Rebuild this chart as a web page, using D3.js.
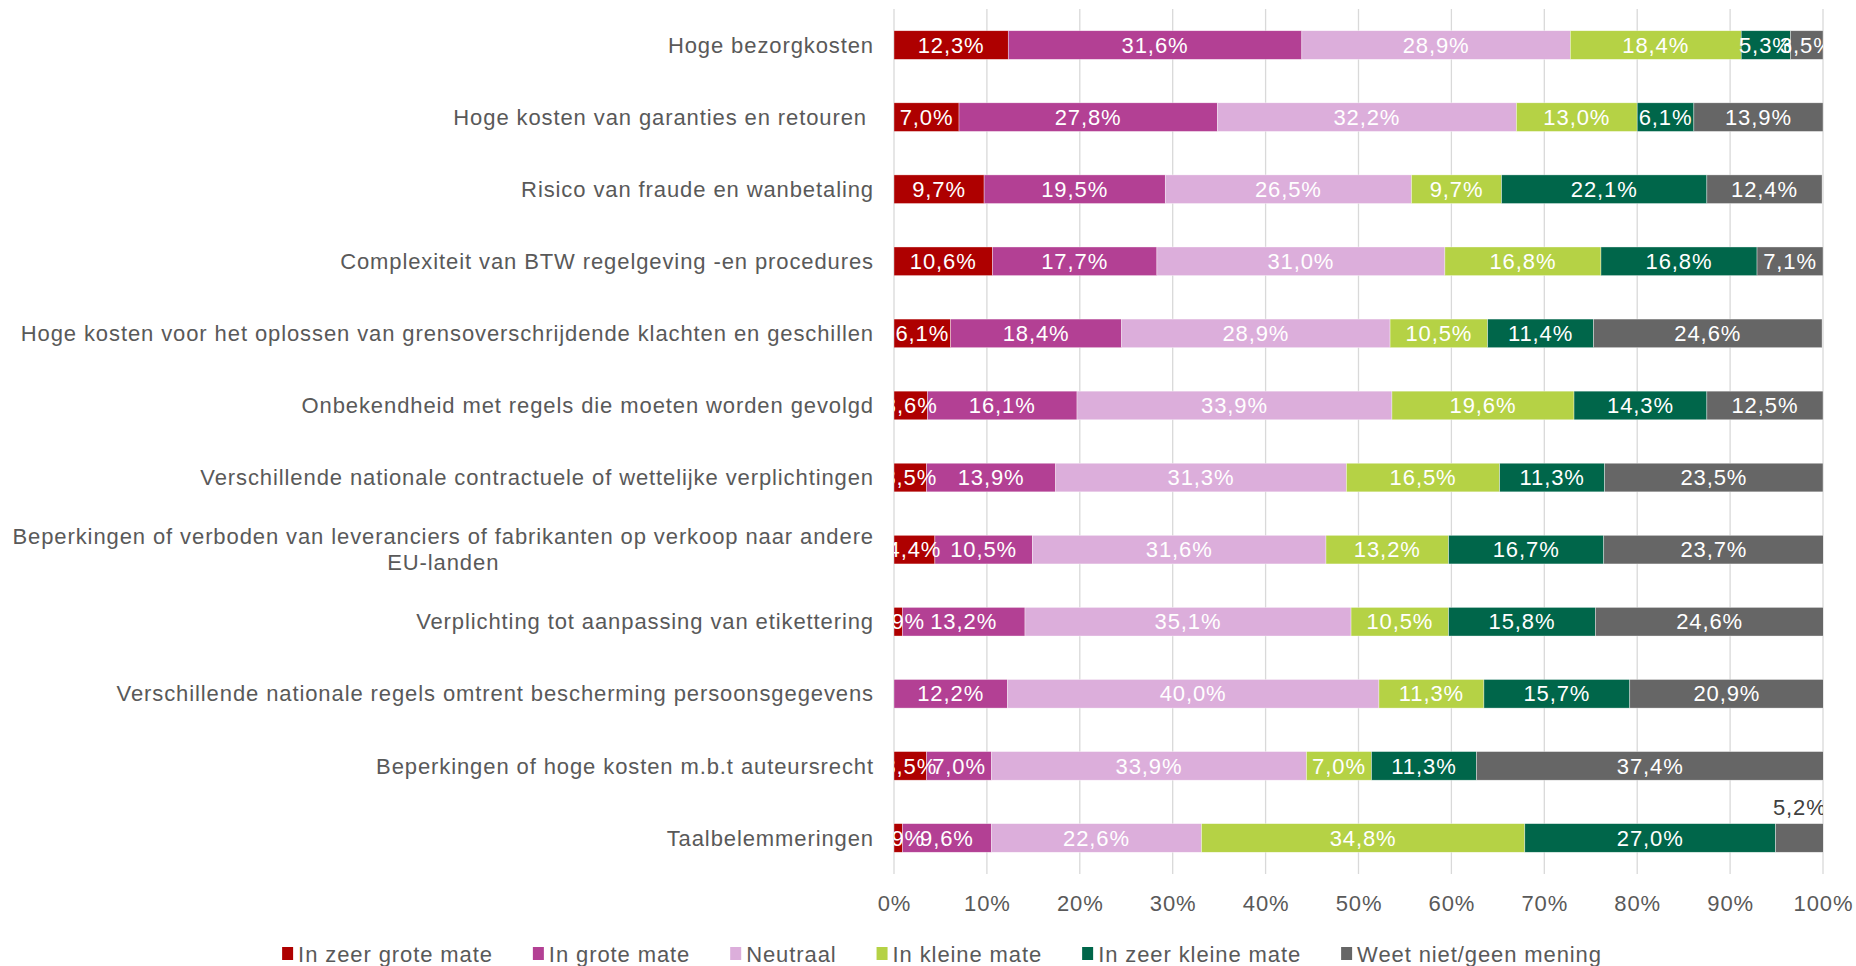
<!DOCTYPE html>
<html>
<head>
<meta charset="utf-8">
<script src="https://cdn.jsdelivr.net/npm/d3@7"></script>
<style>
  html, body { margin: 0; padding: 0; background: #fff; }
  svg { display: block; font-family: "Liberation Sans", Arial, sans-serif; }
  svg text { letter-spacing: 0.9px; }
</style>
</head>
<body>
<svg id="chart" width="1856" height="966"></svg>
<script>
// ---- data ----
const categories = [
  "Hoge bezorgkosten",
  "Hoge kosten van garanties en retouren ",
  "Risico van fraude en wanbetaling",
  "Complexiteit van BTW regelgeving -en procedures",
  "Hoge kosten voor het oplossen van grensoverschrijdende klachten en geschillen",
  "Onbekendheid met regels die moeten worden gevolgd",
  "Verschillende nationale contractuele of wettelijke verplichtingen",
  "Beperkingen of verboden van leveranciers of fabrikanten op verkoop naar andere\nEU-landen",
  "Verplichting tot aanpassing van etikettering",
  "Verschillende nationale regels omtrent bescherming persoonsgegevens",
  "Beperkingen of hoge kosten m.b.t auteursrecht",
  "Taalbelemmeringen"
];
const seriesNames = ["In zeer grote mate", "In grote mate", "Neutraal", "In kleine mate", "In zeer kleine mate", "Weet niet/geen mening"];
const seriesColors = ["#AE0000", "#B34094", "#DCAEDB", "#B5D245", "#00664A", "#666666"];
const zeerGroot = [12.3, 7.0, 9.7, 10.6, 6.1, 3.6, 3.5, 4.4, 0.9, 0, 3.5, 0.9];
const groot     = [31.6, 27.8, 19.5, 17.7, 18.4, 16.1, 13.9, 10.5, 13.2, 12.2, 7.0, 9.6];
const neutraal  = [28.9, 32.2, 26.5, 31.0, 28.9, 33.9, 31.3, 31.6, 35.1, 40.0, 33.9, 22.6];
const klein     = [18.4, 13.0, 9.7, 16.8, 10.5, 19.6, 16.5, 13.2, 10.5, 11.3, 7.0, 34.8];
const zeerKlein = [5.3, 6.1, 22.1, 16.8, 11.4, 14.3, 11.3, 16.7, 15.8, 15.7, 11.3, 27.0];
const weetNiet  = [3.5, 13.9, 12.4, 7.1, 24.6, 12.5, 23.5, 23.7, 24.6, 20.9, 37.4, 5.2];
const tickValues = [0, 10, 20, 30, 40, 50, 60, 70, 80, 90, 100];
const tickLabels = ["0%", "10%", "20%", "30%", "40%", "50%", "60%", "70%", "80%", "90%", "100%"];
// labels drawn above the bar instead of inside: [row, series]
const labelsAbove = [[11, 5]];

const seriesValues = [zeerGroot, groot, neutraal, klein, zeerKlein, weetNiet];

// ---- layout ----
const svg = d3.select("#chart");
const plot = { left: 894, right: 1823, top: 9, bottom: 874 };
const FONT = 22;
const textColor = "#595959";

const x = d3.scaleLinear().domain([0, 100]).range([plot.left, plot.right]);
const y = d3.scaleBand().domain(categories).range([plot.top, plot.bottom]).paddingInner(0.603).paddingOuter(0.3015);

const rows = categories.map((c, i) => {
  const r = { cat: c };
  seriesNames.forEach((s, j) => r[s] = seriesValues[j][i]);
  return r;
});
const stacked = d3.stack().keys(seriesNames)(rows);

svg.append("defs").append("clipPath").attr("id", "plotClip")
  .append("rect").attr("x", plot.left).attr("y", 0)
  .attr("width", plot.right - plot.left).attr("height", plot.bottom + 10);

// gridlines
svg.append("g").selectAll("line").data(tickValues).join("line")
  .attr("x1", d => x(d)).attr("x2", d => x(d))
  .attr("y1", plot.top).attr("y2", plot.bottom)
  .attr("stroke", "#D9D9D9").attr("stroke-width", 1.3);

// bars
const barsG = svg.append("g").attr("clip-path", "url(#plotClip)");
stacked.forEach((layer, j) => {
  barsG.append("g").attr("fill", seriesColors[j])
    .selectAll("rect").data(layer.filter(d => d[1] - d[0] > 0)).join("rect")
    .attr("x", d => x(d[0]))
    .attr("y", d => y(d.data.cat))
    .attr("width", d => x(d[1]) - x(d[0]))
    .attr("height", y.bandwidth())
    .attr("stroke", "#ffffff").attr("stroke-width", 0.6).attr("stroke-opacity", 0.6);
});

// data labels
const fmt = v => d3.format(".1f")(v).replace(".", ",") + "%";
const labelsG = svg.append("g").attr("clip-path", "url(#plotClip)")
  .attr("font-size", FONT);
stacked.forEach((layer, j) => {
  layer.forEach((d, i) => {
    const v = d[1] - d[0];
    if (!(v > 0)) return;
    const above = labelsAbove.some(p => p[0] === i && p[1] === j);
    labelsG.append("text")
      .attr("x", x((d[0] + d[1]) / 2))
      .attr("y", above ? y(d.data.cat) - 16 : y(d.data.cat) + y.bandwidth() / 2)
      .attr("dy", "0.35em")
      .attr("text-anchor", "middle")
      .attr("fill", above ? "#404040" : "#ffffff")
      .text(fmt(v));
  });
});

// category labels
const catG = svg.append("g").attr("font-size", FONT).attr("fill", textColor);
categories.forEach(c => {
  const lines = c.split("\n");
  const cy = y(c) + y.bandwidth() / 2;
  const lh = 26;
  const t = catG.append("text").style("white-space", "pre");
  lines.forEach((ln, k) => {
    t.append("tspan").attr("y", cy + (k - (lines.length - 1) / 2) * lh).attr("dy", "0.35em").text(ln);
  });
  // right-align block, center lines inside block
  const widths = t.selectAll("tspan").nodes().map(n => n.getComputedTextLength());
  const maxW = d3.max(widths);
  const rightEdge = plot.left - 20;
  t.selectAll("tspan").attr("text-anchor", "middle").attr("x", rightEdge - maxW / 2);
  if (lines.length === 1) t.selectAll("tspan").attr("text-anchor", "end").attr("x", rightEdge);
});

// x axis labels
const axis = d3.axisBottom(x).tickValues(tickValues).tickFormat((d, i) => tickLabels[i]).tickSize(0).tickPadding(0);
const axG = svg.append("g").attr("transform", `translate(0, ${plot.bottom})`).call(axis);
axG.select(".domain").remove();
axG.selectAll("text").attr("font-size", FONT).attr("fill", textColor)
  .attr("font-family", "Liberation Sans, Arial, sans-serif")
  .attr("dy", null).attr("y", 29).attr("dominant-baseline", "central");

// legend
const legG = svg.append("g").attr("font-size", FONT).attr("fill", textColor);
let cx = 0;
seriesNames.forEach((s, j) => {
  const g = legG.append("g");
  g.append("rect").attr("x", 0).attr("y", -7).attr("width", 11).attr("height", 13).attr("fill", seriesColors[j]);
  const t = g.append("text").attr("x", 16).attr("y", 0).attr("dy", "0.35em").text(s);
  const w = 16 + t.node().getComputedTextLength();
  g.attr("transform", `translate(${cx},0)`);
  cx += w + 40;
});
const legW = cx - 40;
legG.attr("transform", `translate(${942 - legW / 2}, 954)`);
</script>
</body>
</html>
